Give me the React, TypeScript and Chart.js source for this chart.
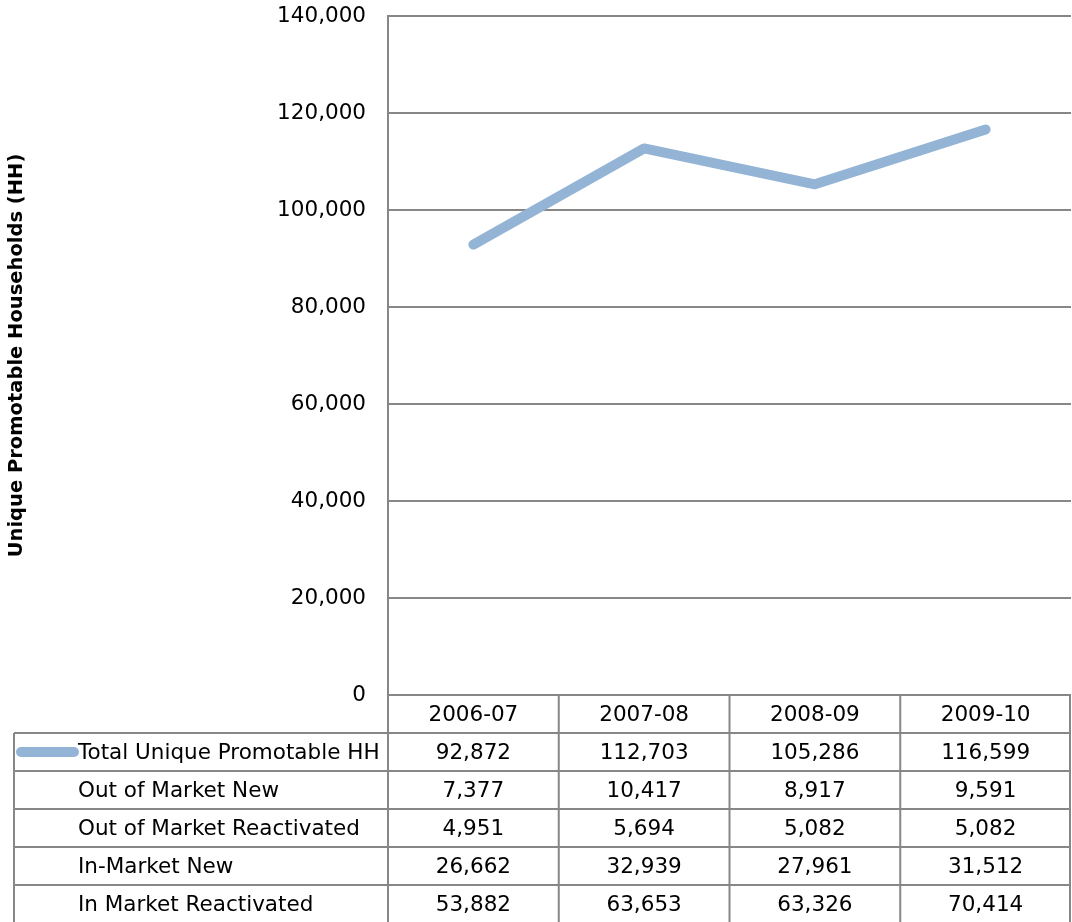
import React, { useEffect, useRef } from "react";
import { Chart, registerables } from "chart.js";

Chart.register(...registerables);

const categories = ["2006-07", "2007-08", "2008-09", "2009-10"];
const totalUniqueHH = [92872, 112703, 105286, 116599];
const outOfMarketNew = [7377, 10417, 8917, 9591];
const outOfMarketReactivated = [4951, 5694, 5082, 5082];
const inMarketNew = [26662, 32939, 27961, 31512];
const inMarketReactivated = [53882, 63653, 63326, 70414];
const rowLabels = [
  "Total Unique Promotable HH",
  "Out of Market New",
  "Out of Market Reactivated",
  "In-Market New",
  "In Market Reactivated",
];
const yTicks = [0, 20000, 40000, 60000, 80000, 100000, 120000, 140000];

const FONT = "'DejaVu Sans', sans-serif";
const LINE_COLOR = "#93B4D5";
const GRID_COLOR = "#878787";

const tablePlugin = {
  id: "dataTable",
  afterDraw(chart: any) {
    const ctx = chart.ctx;
    const area = chart.chartArea;
    const xs = chart.scales.x;
    const rows = [totalUniqueHH, outOfMarketNew, outOfMarketReactivated, inMarketNew, inMarketReactivated];
    const rowH = 38;
    const top = area.bottom;
    const tableLeft = 14;
    const colW = (area.right - area.left) / categories.length;
    const colEdges = categories.map((_, i) => xs.getPixelForValue(i) - colW / 2);
    colEdges.push(area.right);
    const bottom = top + rowH * (rows.length + 1);
    ctx.save();
    ctx.strokeStyle = GRID_COLOR;
    ctx.lineWidth = 2;
    ctx.beginPath();
    ctx.moveTo(area.left, top);
    ctx.lineTo(area.right, top);
    for (let r = 1; r <= rows.length + 1; r++) {
      const y = top + rowH * r;
      ctx.moveTo(tableLeft, y);
      ctx.lineTo(area.right, y);
    }
    for (let i = 0; i < colEdges.length; i++) {
      const x = Math.min(colEdges[i], area.right - 1);
      ctx.moveTo(x, top);
      ctx.lineTo(x, bottom);
    }
    ctx.moveTo(tableLeft, top + rowH);
    ctx.lineTo(tableLeft, bottom);
    ctx.stroke();

    ctx.fillStyle = "#000";
    ctx.font = `21.5px ${FONT}`;
    ctx.textBaseline = "middle";
    ctx.textAlign = "center";
    categories.forEach((c, i) => {
      ctx.fillText(c, xs.getPixelForValue(i), top + rowH / 2 + 1);
    });
    rows.forEach((vals, r) => {
      const cy = top + rowH * (r + 1) + rowH / 2 + 1;
      ctx.textAlign = "center";
      vals.forEach((v, i) => {
        ctx.fillText(v.toLocaleString("en-US"), xs.getPixelForValue(i), cy);
      });
      ctx.textAlign = "left";
      ctx.fillText(rowLabels[r], 78, cy);
    });
    ctx.strokeStyle = LINE_COLOR;
    ctx.lineWidth = 10;
    ctx.lineCap = "round";
    ctx.beginPath();
    const ky = top + rowH * 1.5;
    ctx.moveTo(21, ky);
    ctx.lineTo(74, ky);
    ctx.stroke();
    ctx.restore();
  },
};

export default function App() {
  const ref = useRef<HTMLCanvasElement>(null);
  useEffect(() => {
    document.body.style.margin = "0";
    const chart = new Chart(ref.current!, {
      type: "line",
      data: {
        labels: categories,
        datasets: [
          {
            label: rowLabels[0],
            data: totalUniqueHH,
            borderColor: LINE_COLOR,
            backgroundColor: LINE_COLOR,
            borderWidth: 10,
            pointRadius: 0,
            borderCapStyle: "round",
            borderJoinStyle: "round",
            tension: 0,
          },
        ],
      },
      options: {
        responsive: false,
        animation: false,
        layout: { padding: { left: 0, top: 16, right: 1, bottom: 227 } },
        plugins: { legend: { display: false }, tooltip: { enabled: false } },
        scales: {
          x: { display: false, offset: true },
          y: {
            min: 0,
            max: 140000,
            afterBuildTicks(scale: any) {
              scale.ticks = yTicks.map((v) => ({ value: v }));
            },
            afterFit(scale: any) {
              scale.width = 388;
              scale.paddingTop = 0;
              scale.paddingBottom = 0;
            },
            ticks: {
              padding: 22,
              color: "#000",
              font: { family: FONT, size: 21.5 },
              callback: (v: any) => Number(v).toLocaleString("en-US"),
            },
            grid: { color: GRID_COLOR, lineWidth: 2, drawTicks: false },
            border: { display: true, color: GRID_COLOR, width: 2 },
            title: {
              display: true,
              text: "Unique Promotable Households (HH)",
              color: "#000",
              font: { family: FONT, size: 19.5, weight: "bold" },
              padding: { top: 5, bottom: 0 },
            },
          },
        },
      },
      plugins: [tablePlugin],
    });
    return () => chart.destroy();
  }, []);
  return <canvas ref={ref} width={1072} height={922} style={{ display: "block", width: 1072, height: 922 }} />;
}
